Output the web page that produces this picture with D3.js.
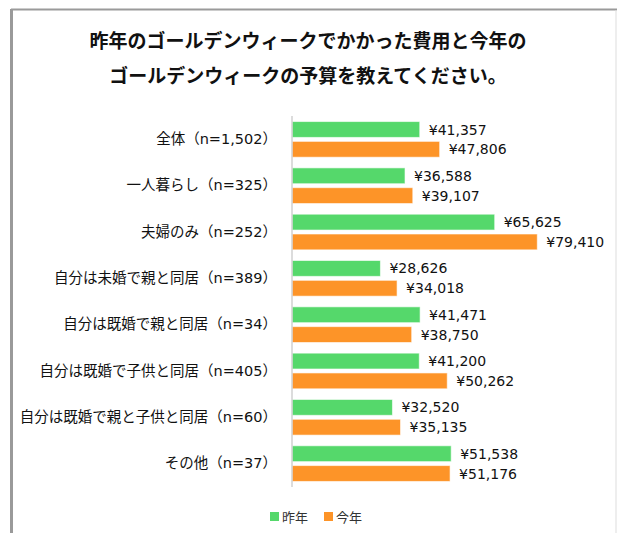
<!DOCTYPE html>
<html>
<head>
<meta charset="utf-8">
<script src="https://cdn.jsdelivr.net/npm/d3@7"></script>
<style>
  body { margin: 0; background: #fff; }
  text { font-family: "DejaVu Sans", "Noto Sans CJK JP", sans-serif; }
</style>
</head>
<body>
<svg id="chart" width="617" height="533"></svg>
<script>
// Title lines.
const titleLines = [
  "昨年のゴールデンウィークでかかった費用と今年の",
  "ゴールデンウィークの予算を教えてください。"
];
// Categories (top to bottom).
const categories = [
  "全体（n=1,502）",
  "一人暮らし（n=325）",
  "夫婦のみ（n=252）",
  "自分は未婚で親と同居（n=389）",
  "自分は既婚で親と同居（n=34）",
  "自分は既婚で子供と同居（n=405）",
  "自分は既婚で親と子供と同居（n=60）",
  "その他（n=37）"
];
const seriesNames = ["昨年", "今年"];
const lastYear = [41357, 36588, 65625, 28626, 41471, 41200, 32520, 51538];
const thisYear = [47806, 39107, 79410, 34018, 38750, 50262, 35135, 51176];
const colors = ["#55d86b", "#fd9428"];

const svg = d3.select("#chart");

// Frame around the chart: top and left darker, right light.
svg.append("line").attr("x1", 11).attr("x2", 617).attr("y1", 9.5).attr("y2", 9.5)
  .attr("stroke", "#9a9a9a").attr("stroke-width", 2);
svg.append("line").attr("x1", 11.5).attr("x2", 11.5).attr("y1", 9).attr("y2", 533)
  .attr("stroke", "#9a9a9a").attr("stroke-width", 3);
svg.append("line").attr("x1", 616).attr("x2", 616).attr("y1", 10).attr("y2", 533)
  .attr("stroke", "#dddddd").attr("stroke-width", 1);

// Title.
svg.selectAll(".title")
  .data(titleLines)
  .enter().append("text")
  .attr("class", "title")
  .attr("x", 308)
  .attr("y", (d, i) => 48 + i * 35)
  .attr("text-anchor", "middle")
  .attr("font-size", "19px")
  .attr("font-weight", "bold")
  .style("font-family", "'Noto Sans CJK JP', sans-serif")
  .attr("fill", "#111")
  .text(d => d);

// Scales.
const x = d3.scaleLinear().domain([0, 90000]).range([292, 570]);
const y = d3.scaleBand().domain(categories).range([116, 487]).paddingInner(0.23).paddingOuter(0.12);
const inner = d3.scaleBand().domain(seriesNames).range([0, y.bandwidth()]).paddingInner(0.2);

const rows = categories.map((c, i) => ({ cat: c, values: [lastYear[i], thisYear[i]] }));

// Bars.
const groups = svg.selectAll(".group")
  .data(rows)
  .enter().append("g")
  .attr("class", "group")
  .attr("transform", d => `translate(0,${y(d.cat)})`);

groups.selectAll("rect")
  .data(d => d.values.map((v, i) => ({ name: seriesNames[i], value: v, i })))
  .enter().append("rect")
  .attr("x", x(0))
  .attr("y", d => inner(d.name))
  .attr("width", d => x(d.value) - x(0))
  .attr("height", inner.bandwidth())
  .attr("fill", d => colors[d.i])
  .attr("stroke", "#ffffff")
  .attr("stroke-opacity", 0.6)
  .attr("stroke-width", 1);

// Value labels.
groups.selectAll(".val")
  .data(d => d.values.map((v, i) => ({ name: seriesNames[i], value: v, i })))
  .enter().append("text")
  .attr("class", "val")
  .attr("x", d => x(d.value) + 9)
  .attr("y", d => inner(d.name) + inner.bandwidth() / 2)
  .attr("dy", "0.36em")
  .attr("font-size", "14px")
  .attr("fill", "#111")
  .text(d => "¥" + d3.format(",")(d.value));

// Category axis.
const yAxis = d3.axisLeft(y).tickSize(0).tickPadding(15);
const axisG = svg.append("g")
  .attr("transform", `translate(${x(0)},0)`)
  .call(yAxis);
axisG.select(".domain").attr("stroke", "#d0d0d0").attr("stroke-width", 1.5)
  .attr("d", `M0,116V487`);
axisG.selectAll("text")
  .attr("font-size", "14.5px")
  .attr("fill", "#111")
  .style("font-family", "'DejaVu Sans', 'Noto Sans CJK JP', sans-serif");

// Legend.
const legendX = [270, 324];
const legend = svg.selectAll(".legend")
  .data(seriesNames)
  .enter().append("g")
  .attr("class", "legend")
  .attr("transform", (d, i) => `translate(${legendX[i]},512)`);
legend.append("rect")
  .attr("width", 9).attr("height", 9)
  .attr("fill", (d, i) => colors[i]);
legend.append("text")
  .attr("x", 12).attr("y", 5).attr("dy", "0.36em")
  .attr("font-size", "13px")
  .attr("fill", "#333")
  .style("font-family", "'Noto Sans CJK JP', sans-serif")
  .text(d => d);
</script>
</body>
</html>
